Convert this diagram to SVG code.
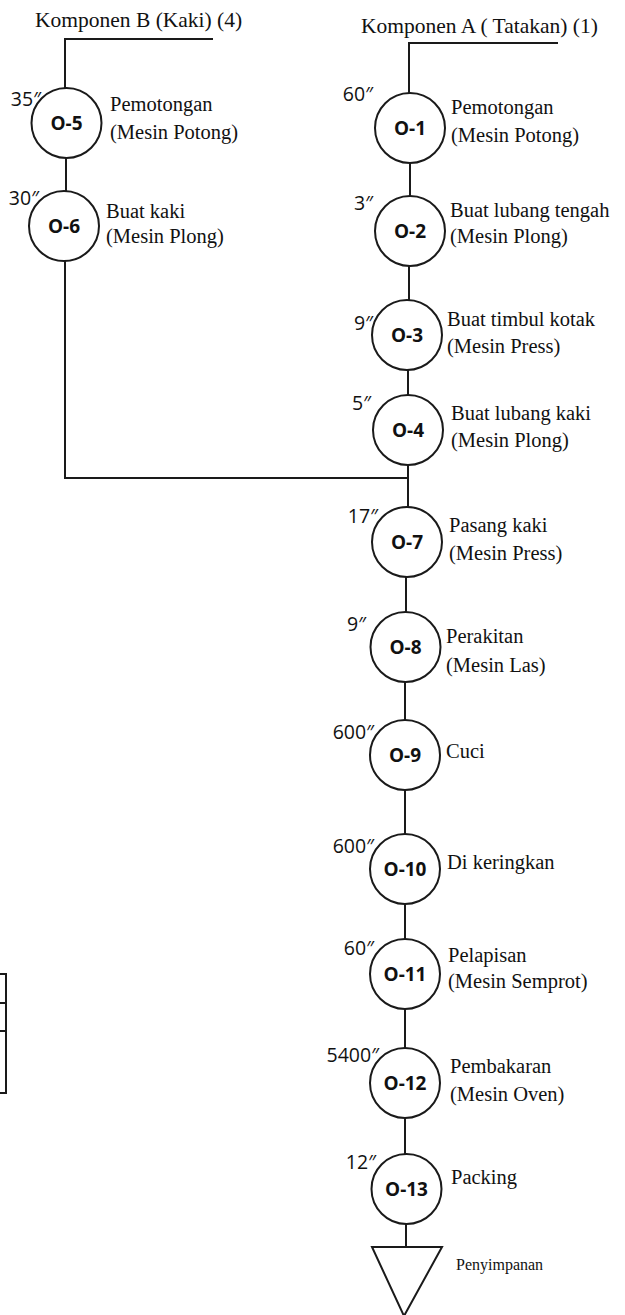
<svg xmlns="http://www.w3.org/2000/svg" width="625" height="1315" viewBox="0 0 625 1315">
<style>
.ln{stroke:#1a1a1a;stroke-width:2;fill:none}
.nd{stroke:#1a1a1a;stroke-width:2;fill:#fff}
.id{font-family:"Open Sans","Liberation Sans",sans-serif;font-weight:bold;font-size:19px;fill:#111;text-anchor:middle}
.tm{font-family:"Open Sans","Liberation Sans",sans-serif;font-size:19.5px;fill:#111;text-anchor:end}
.ds{font-family:"Liberation Serif","Times New Roman",serif;font-size:20.5px;fill:#111}
.hd{font-family:"Liberation Serif","Times New Roman",serif;font-size:21.5px;fill:#111}
.sm{font-family:"Liberation Serif","Times New Roman",serif;font-size:16px;fill:#111}
</style>
<rect width="625" height="1315" fill="#fff"/>
<g id="connectors">
<path class="ln" d="M213,39 H65 V88"/>
<path class="ln" d="M66,158 V191"/>
<path class="ln" d="M65,261 V478 H407"/>
<path class="ln" d="M558,43 H409 V93"/>
<path class="ln" d="M410,163 V196"/>
<path class="ln" d="M409,266 V300"/>
<path class="ln" d="M408,370 V395"/>
<path class="ln" d="M408,465 V507"/>
<path class="ln" d="M406,577 V612"/>
<path class="ln" d="M405,682 V720"/>
<path class="ln" d="M405,790 V834"/>
<path class="ln" d="M405,904 V939"/>
<path class="ln" d="M405,1009 V1048"/>
<path class="ln" d="M405,1118 V1154"/>
<path class="ln" d="M406,1224 V1247"/>
</g>
<g id="headerB"><text class="hd" x="35" y="27">Komponen B (Kaki) (4)</text></g>
<g id="headerA"><text class="hd" x="361" y="33">Komponen A ( Tatakan) (1)</text></g>
<g id="O-5"><circle class="nd" cx="66.5" cy="123" r="35"/><text class="id" x="66.5" y="130">O-5</text><text class="tm" x="41" y="106">35″</text><text class="ds" x="110" y="111">Pemotongan</text><text class="ds" x="110" y="139">(Mesin Potong)</text></g>
<g id="O-6"><circle class="nd" cx="64" cy="226" r="35"/><text class="id" x="64" y="233">O-6</text><text class="tm" x="39" y="205">30″</text><text class="ds" x="106" y="218">Buat kaki</text><text class="ds" x="106" y="243">(Mesin Plong)</text></g>
<g id="O-1"><circle class="nd" cx="410" cy="128" r="35"/><text class="id" x="410" y="135">O-1</text><text class="tm" x="373" y="101">60″</text><text class="ds" x="451" y="114">Pemotongan</text><text class="ds" x="451" y="142">(Mesin Potong)</text></g>
<g id="O-2"><circle class="nd" cx="410" cy="231" r="35"/><text class="id" x="410" y="238">O-2</text><text class="tm" x="373" y="210">3″</text><text class="ds" x="450" y="217">Buat lubang tengah</text><text class="ds" x="450" y="243">(Mesin Plong)</text></g>
<g id="O-3"><circle class="nd" cx="407" cy="335" r="35"/><text class="id" x="407" y="342">O-3</text><text class="tm" x="373" y="330">9″</text><text class="ds" x="447" y="326">Buat timbul kotak</text><text class="ds" x="447" y="353">(Mesin Press)</text></g>
<g id="O-4"><circle class="nd" cx="408" cy="430" r="35"/><text class="id" x="408" y="437">O-4</text><text class="tm" x="371" y="410">5″</text><text class="ds" x="451" y="420">Buat lubang kaki</text><text class="ds" x="451" y="447">(Mesin Plong)</text></g>
<g id="O-7"><circle class="nd" cx="407" cy="542" r="35"/><text class="id" x="407" y="549">O-7</text><text class="tm" x="378" y="523">17″</text><text class="ds" x="449" y="532">Pasang kaki</text><text class="ds" x="449" y="560">(Mesin Press)</text></g>
<g id="O-8"><circle class="nd" cx="405.5" cy="647" r="35"/><text class="id" x="405.5" y="654">O-8</text><text class="tm" x="366" y="631">9″</text><text class="ds" x="446" y="643">Perakitan</text><text class="ds" x="446" y="672">(Mesin Las)</text></g>
<g id="O-9"><circle class="nd" cx="405" cy="755" r="35"/><text class="id" x="405" y="762">O-9</text><text class="tm" x="374" y="739">600″</text><text class="ds" x="446" y="758">Cuci</text></g>
<g id="O-10"><circle class="nd" cx="405" cy="869" r="35"/><text class="id" x="405" y="876">O-10</text><text class="tm" x="374" y="853">600″</text><text class="ds" x="447" y="869">Di keringkan</text></g>
<g id="O-11"><circle class="nd" cx="405" cy="974" r="35"/><text class="id" x="405" y="981">O-11</text><text class="tm" x="374" y="955">60″</text><text class="ds" x="448" y="962">Pelapisan</text><text class="ds" x="448" y="988">(Mesin Semprot)</text></g>
<g id="O-12"><circle class="nd" cx="405" cy="1083" r="35"/><text class="id" x="405" y="1090">O-12</text><text class="tm" x="379" y="1062">5400″</text><text class="ds" x="450" y="1073">Pembakaran</text><text class="ds" x="450" y="1101">(Mesin Oven)</text></g>
<g id="O-13"><circle class="nd" cx="406.5" cy="1189" r="35"/><text class="id" x="406.5" y="1196">O-13</text><text class="tm" x="376" y="1169">12″</text><text class="ds" x="451" y="1184">Packing</text></g>
<g id="storage"><polygon class="nd" points="372,1247 442,1247 404,1316"/><text class="sm" x="456" y="1270">Penyimpanan</text></g>
<g id="table-edge"><path class="ln" d="M0,974 H6 V1093 H0 M0,1003 H6 M0,1031 H6"/></g>
</svg>
